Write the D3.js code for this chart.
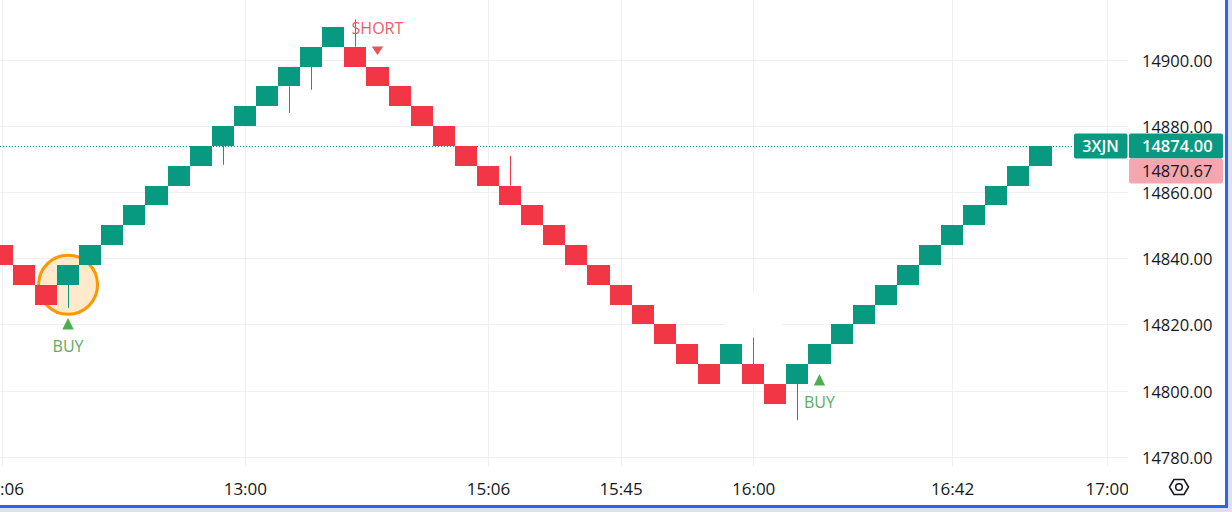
<!DOCTYPE html>
<html>
<head>
<meta charset="utf-8">
<script src="https://cdn.jsdelivr.net/npm/d3@7"></script>
<style>
  html, body { margin: 0; padding: 0; background: #ffffff; }
  svg { display: block; }
  text { font-family: "Open Sans", "Noto Sans", sans-serif; }
</style>
</head>
<body>
<svg id="chart" width="1232" height="512"></svg>
<script>
// ---------- data ----------
const brickOpen = [14844, 14838, 14832, 14832, 14838, 14844, 14850, 14856, 14862, 14868,
                   14874, 14880, 14886, 14892, 14898, 14904, 14904, 14898, 14892, 14886,
                   14880, 14874, 14868, 14862, 14856, 14850, 14844, 14838, 14832, 14826,
                   14820, 14814, 14808, 14808, 14808, 14802, 14802, 14808, 14814, 14820,
                   14826, 14832, 14838, 14844, 14850, 14856, 14862, 14868];
const brickClose = [14838, 14832, 14826, 14838, 14844, 14850, 14856, 14862, 14868, 14874,
                    14880, 14886, 14892, 14898, 14904, 14910, 14898, 14892, 14886, 14880,
                    14874, 14868, 14862, 14856, 14850, 14844, 14838, 14832, 14826, 14820,
                    14814, 14808, 14802, 14814, 14802, 14796, 14808, 14814, 14820, 14826,
                    14832, 14838, 14844, 14850, 14856, 14862, 14868, 14874];
// wicks: column index and extreme price
const wickIndex = [3, 10, 13, 14, 16, 23, 34, 36];
const wickPrice = [14825, 14868.3, 14884, 14891, 14912.3, 14871, 14816, 14791];

const priceTicks = [14780, 14800, 14820, 14840, 14860, 14880, 14900];
const timeLabels = ["12:06", "13:00", "15:06", "15:45", "16:00", "16:42", "17:00"];
const timeIndex  = [0, 11, 22, 28, 34, 43, 50];

const signalIndex = [3, 17, 37];
const signalType  = ["BUY", "SHORT", "BUY"];
const signalPrice = [14825, 14898, 14808];

const highlightIndex = 3;
const highlightPrice = 14832;

const lastPrice = 14874.00;
const secondPrice = 14870.67;
const symbolTag = "3XJN";

// ---------- layout ----------
const W = 1232, H = 512;
const paneRight = 1128, paneBottom = 466;
const GREEN = "#089981", RED = "#F23645";

const svg = d3.select("#chart");

const x = d3.scaleLinear().domain([0, 50]).range([-9.3, -9.3 + 50 * 22.1]);
const y = d3.scaleLinear().domain([14780, 14900]).range([456.6, 60]);

svg.append("rect").attr("width", W).attr("height", H).attr("fill", "#ffffff");

const defs = svg.append("defs");
defs.append("clipPath").attr("id", "pane")
  .append("rect").attr("x", 0).attr("y", 0).attr("width", paneRight).attr("height", paneBottom);
defs.append("clipPath").attr("id", "timeclip")
  .append("rect").attr("x", 0).attr("y", paneBottom).attr("width", paneRight).attr("height", H - paneBottom);

const pane = svg.append("g").attr("clip-path", "url(#pane)");

// grid
pane.append("g").selectAll("line").data(priceTicks).join("line")
  .attr("x1", 0).attr("x2", paneRight)
  .attr("y1", d => Math.round(y(d)) + 0.5).attr("y2", d => Math.round(y(d)) + 0.5)
  .attr("stroke", "#eff0f3").attr("stroke-width", 1);
pane.append("g").selectAll("line").data(timeIndex).join("line")
  .attr("x1", d => Math.round(x(d + 0.5)) + 0.5).attr("x2", d => Math.round(x(d + 0.5)) + 0.5)
  .attr("y1", 0).attr("y2", paneBottom)
  .attr("stroke", "#eff0f3").attr("stroke-width", 1);

// small white gap box seen near 16:00
pane.append("rect")
  .attr("x", x(34.5) - 28).attr("y", y(14830)).attr("width", 57).attr("height", y(14818.5) - y(14830))
  .attr("fill", "#ffffff");

// last price dotted line
pane.append("line")
  .attr("x1", 0).attr("x2", 1074)
  .attr("y1", Math.round(y(lastPrice)) + 0.5).attr("y2", Math.round(y(lastPrice)) + 0.5)
  .attr("stroke", GREEN).attr("stroke-width", 1).attr("stroke-dasharray", "1,2");

// highlight circle
pane.append("circle")
  .attr("cx", x(highlightIndex + 0.5)).attr("cy", y(highlightPrice))
  .attr("r", 29.5)
  .attr("fill", "rgba(255,152,0,0.2)")
  .attr("stroke", "#ff9800").attr("stroke-width", 3);

const bricks = brickOpen.map((o, i) => ({ i, open: o, close: brickClose[i] }));

// wicks
pane.append("g").selectAll("line").data(wickIndex.map((i, k) => ({ i, p: wickPrice[k] }))).join("line")
  .attr("x1", d => Math.round(x(d.i + 0.5)) + 0.5)
  .attr("x2", d => Math.round(x(d.i + 0.5)) + 0.5)
  .attr("y1", d => {
    const b = bricks[d.i];
    const hi = Math.max(b.open, b.close), lo = Math.min(b.open, b.close);
    return d.p > hi ? y(hi) : y(lo);
  })
  .attr("y2", d => y(d.p))
  .attr("stroke", d => bricks[d.i].close > bricks[d.i].open ? GREEN : RED)
  .attr("stroke-width", 1);

// bricks
pane.append("g").selectAll("rect").data(bricks).join("rect")
  .attr("x", d => x(d.i))
  .attr("width", d => x(d.i + 1) - x(d.i))
  .attr("y", d => y(Math.max(d.open, d.close)))
  .attr("height", d => y(Math.min(d.open, d.close)) - y(Math.max(d.open, d.close)))
  .attr("fill", d => d.close > d.open ? GREEN : RED)
  .attr("shape-rendering", "crispEdges");

// signals
const sig = pane.append("g");
signalIndex.forEach((ci, k) => {
  const cx = x(ci + 0.5);
  const py = y(signalPrice[k]);
  if (signalType[k] === "BUY") {
    const top = py + 10;
    sig.append("path")
      .attr("d", `M${cx - 5.7},${top + 11.5}L${cx + 5.7},${top + 11.5}L${cx},${top}Z`)
      .attr("fill", "#4caf50");
    sig.append("text").attr("x", cx).attr("y", top + 28)
      .attr("text-anchor", "middle").attr("dominant-baseline", "central")
      .attr("font-size", 16).attr("fill", "#5aad62").text("BUY");
  } else {
    const bot = py - 11.5;
    sig.append("path")
      .attr("d", `M${cx - 5.7},${bot - 8.5}L${cx + 5.7},${bot - 8.5}L${cx},${bot}Z`)
      .attr("fill", "#f0505a");
    sig.append("text").attr("x", cx).attr("y", bot - 27)
      .attr("text-anchor", "middle").attr("dominant-baseline", "central")
      .attr("font-size", 16).attr("fill", "#f25c65").text("SHORT");
  }
});

// price axis
const yAxis = d3.axisRight(y).tickValues(priceTicks).tickFormat(d3.format(".2f")).tickSize(0).tickPadding(14);
const ya = svg.append("g").attr("transform", `translate(${paneRight},0)`).call(yAxis);
ya.select(".domain").remove();
ya.selectAll("text").attr("font-size", 16.5).attr("fill", "#131722")
  .attr("font-family", "'Open Sans', sans-serif").attr("dy", null).attr("dominant-baseline", "central");

// time axis
const xAxis = d3.axisBottom(x).tickValues(timeIndex.map(i => i + 0.5))
  .tickFormat((d, k) => timeLabels[k]).tickSize(0);
const xa = svg.append("g").attr("clip-path", "url(#timeclip)")
  .append("g").attr("transform", `translate(0,${paneBottom})`).call(xAxis);
xa.select(".domain").remove();
xa.selectAll("text").attr("font-size", 17).attr("fill", "#131722")
  .attr("font-family", "'Open Sans', sans-serif")
  .attr("y", 22).attr("dy", null).attr("dominant-baseline", "central");

// price tags
const tagY = y(lastPrice);
const tags = svg.append("g");
tags.append("rect").attr("x", 1074).attr("y", tagY - 12.5).attr("width", 53.5).attr("height", 25)
  .attr("rx", 2).attr("fill", GREEN);
tags.append("text").attr("x", 1100.5).attr("y", tagY).attr("text-anchor", "middle")
  .attr("dominant-baseline", "central").attr("font-size", 16).attr("font-weight", 600)
  .attr("fill", "#ffffff").text(symbolTag);
tags.append("rect").attr("x", 1129).attr("y", tagY - 12.5).attr("width", 94).attr("height", 25)
  .attr("rx", 2).attr("fill", GREEN);
tags.append("text").attr("x", 1142).attr("y", tagY).attr("dominant-baseline", "central")
  .attr("font-size", 16.5).attr("font-weight", 600).attr("fill", "#ffffff").text(lastPrice.toFixed(2));
tags.append("rect").attr("x", 1129).attr("y", tagY + 12.5).attr("width", 94).attr("height", 25)
  .attr("rx", 2).attr("fill", "#f6a6ae");
tags.append("text").attr("x", 1142).attr("y", tagY + 25).attr("dominant-baseline", "central")
  .attr("font-size", 16.5).attr("fill", "#131722").text(secondPrice.toFixed(2));

// settings icon
const ic = svg.append("g").attr("transform", "translate(1179,487)");
ic.append("path").attr("d", "M-9.5,0L-5,-7.5L5,-7.5L9.5,0L5,7.5L-5,7.5Z")
  .attr("fill", "none").attr("stroke", "#131722").attr("stroke-width", 1.5).attr("stroke-linejoin", "round");
ic.append("circle").attr("r", 3.3).attr("fill", "none").attr("stroke", "#131722").attr("stroke-width", 1.5);

// frame
svg.append("rect").attr("x", 1228).attr("y", 0).attr("width", 4).attr("height", H).attr("fill", "#dde2ee");
svg.append("rect").attr("x", 0).attr("y", 508).attr("width", W).attr("height", 4).attr("fill", "#dde2ee");
svg.append("rect").attr("x", 1225).attr("y", 0).attr("width", 3).attr("height", 508).attr("fill", "#2f62f3");
svg.append("rect").attr("x", 0).attr("y", 505).attr("width", 1228).attr("height", 3).attr("fill", "#2f62f3");
</script>
</body>
</html>
